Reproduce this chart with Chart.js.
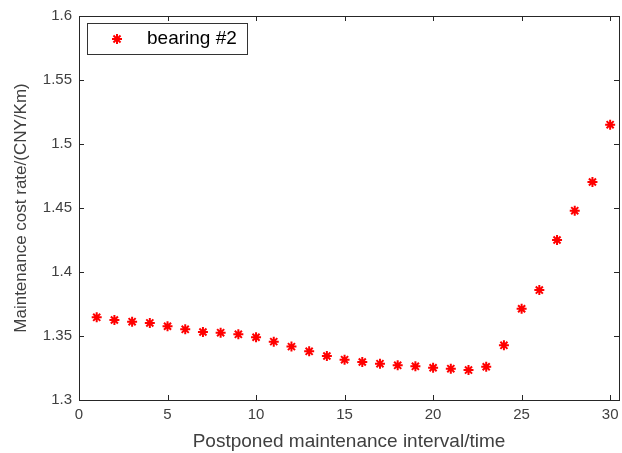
<!DOCTYPE html>
<html>
<head>
<meta charset="utf-8">
<script src="https://cdn.jsdelivr.net/npm/chart.js@4/dist/chart.umd.min.js"></script>
<style>
  html, body { margin: 0; padding: 0; background: #fff; }
  #wrap { width: 622px; height: 453px; }
</style>
</head>
<body>
<div id="wrap"><canvas id="chart" width="622" height="453"></canvas></div>
<script>
var intervals = [1, 2, 3, 4, 5, 6, 7, 8, 9, 10, 11, 12, 13, 14, 15, 16, 17, 18, 19, 20, 21, 22, 23, 24, 25, 26, 27, 28, 29, 30];
var costRate = [1.3646, 1.3625, 1.3612, 1.3602, 1.3576, 1.3552, 1.3531, 1.3526, 1.3513, 1.3490,
  1.3456, 1.3417, 1.3380, 1.3344, 1.3315, 1.3297, 1.3284, 1.3271, 1.3263, 1.3252,
  1.3245, 1.3234, 1.3260, 1.3427, 1.3713, 1.3859, 1.4250, 1.4479, 1.4703, 1.5151];
var seriesName = "bearing #2";
var xTitle = "Postponed maintenance interval/time";
var yTitle = "Maintenance cost rate/(CNY/Km)";

var axisColor = "#262626";
var textColor = "#404040";

// box, inward ticks on all four sides, legend inside the axes (MATLAB look)
var matlabFrame = {
  id: "matlabFrame",
  afterDraw: function(chart) {
    var ctx = chart.ctx;
    var a = chart.chartArea;
    var xs = chart.scales.x;
    var ys = chart.scales.y;
    ctx.save();
    ctx.strokeStyle = axisColor;
    ctx.lineWidth = 1;
    ctx.strokeRect(Math.round(a.left) + 0.5, Math.round(a.top) + 0.5, Math.round(a.right - a.left), Math.round(a.bottom - a.top));
    ctx.beginPath();
    xs.ticks.forEach(function(t) {
      var px = Math.round(xs.getPixelForValue(t.value)) + 0.5;
      ctx.moveTo(px, a.bottom); ctx.lineTo(px, a.bottom - 5);
      ctx.moveTo(px, a.top); ctx.lineTo(px, a.top + 5);
    });
    ys.ticks.forEach(function(t) {
      var py = Math.round(ys.getPixelForValue(t.value)) + 0.5;
      ctx.moveTo(a.left, py); ctx.lineTo(a.left + 5, py);
      ctx.moveTo(a.right, py); ctx.lineTo(a.right - 5, py);
    });
    ctx.stroke();

    // legend
    var lx = a.left + 8, ly = a.top + 7, lw = 160, lh = 31;
    ctx.fillStyle = "#fff";
    ctx.fillRect(lx, ly, lw, lh);
    ctx.strokeStyle = "#333";
    ctx.strokeRect(lx + 0.5, ly + 0.5, lw, lh);
    ctx.strokeStyle = "red";
    ctx.fillStyle = "red";
    ctx.lineWidth = 2;
    Chart.helpers.drawPoint(ctx, { pointStyle: "star", radius: 5, borderWidth: 2 }, lx + 30, ly + 16);
    ctx.fillStyle = "#000";
    ctx.font = "19px 'Liberation Sans', Arial, sans-serif";
    ctx.textBaseline = "middle";
    ctx.fillText(seriesName, lx + 60, ly + 16);
    ctx.restore();
  }
};

new Chart(document.getElementById("chart"), {
  type: "scatter",
  data: {
    datasets: [{
      label: seriesName,
      data: intervals.map(function(x, i) { return { x: x, y: costRate[i] }; }),
      pointStyle: "star",
      pointRadius: 5,
      pointBorderWidth: 2,
      borderColor: "red",
      backgroundColor: "red"
    }]
  },
  options: {
    responsive: false,
    animation: false,
    layout: { autoPadding: false, padding: { top: 16, right: 3, left: 0, bottom: 0 } },
    plugins: {
      legend: { display: false },
      tooltip: { enabled: false }
    },
    scales: {
      x: {
        type: "linear",
        min: 0,
        max: 30.5,
        border: { display: false },
        grid: { display: false, drawTicks: false },
        ticks: {
          stepSize: 5,
          includeBounds: false,
          padding: 6,
          color: textColor,
          font: { family: "'Liberation Sans', Arial, sans-serif", size: 15 }
        },
        title: {
          display: true,
          text: xTitle,
          color: textColor,
          padding: { top: 3, bottom: 0 },
          font: { family: "'Liberation Sans', Arial, sans-serif", size: 19 }
        },
        afterFit: function(scale) {
          scale.height = 53;
          scale.paddingLeft = 0;
          scale.paddingRight = 0;
        }
      },
      y: {
        min: 1.3,
        max: 1.6,
        border: { display: false },
        grid: { display: false, drawTicks: false },
        ticks: {
          stepSize: 0.05,
          padding: 7,
          color: textColor,
          font: { family: "'Liberation Sans', Arial, sans-serif", size: 15 },
          callback: function(v) { return String(Number(v.toFixed(2))); }
        },
        title: {
          display: true,
          text: yTitle,
          color: textColor,
          padding: { top: 11, bottom: 0 },
          font: { family: "'Liberation Sans', Arial, sans-serif", size: 17 }
        },
        afterFit: function(scale) { scale.width = 79; }
      }
    }
  },
  plugins: [matlabFrame]
});
</script>
</body>
</html>
